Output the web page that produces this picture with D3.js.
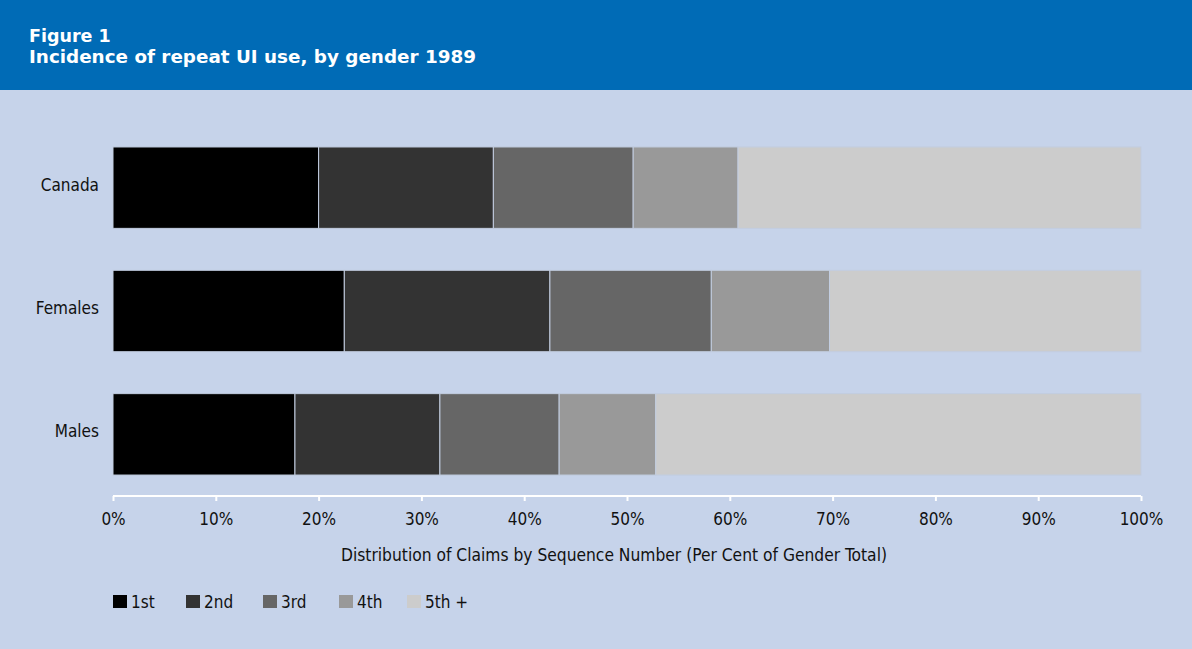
<!DOCTYPE html>
<html>
<head>
<meta charset="utf-8">
<script src="https://cdn.jsdelivr.net/npm/d3@7"></script>
<style>
  html, body { margin: 0; padding: 0; background: #c6d3ea; }
  svg { display: block; }
  .narrow { font-family: "Liberation Sans Narrow", "DejaVu Sans Condensed", "Roboto Condensed", "Liberation Sans", sans-serif; font-stretch: condensed; }
</style>
</head>
<body>
<svg id="chart" width="1192" height="649"></svg>
<script>
// Regions shown as horizontal bars
const categories = ["Canada", "Females", "Males"];
// Claim sequence groups stacked within each bar
const seriesNames = ["1st", "2nd", "3rd", "4th", "5th +"];
// Per cent of gender total for each sequence group (Canada, Females, Males)
const share1st = [20.0, 22.5, 17.7];
const share2nd = [17.0, 20.0, 14.1];
const share3rd = [13.6, 15.7, 11.6];
const share4th = [10.2, 11.5, 9.4];
const share5th = [39.2, 30.3, 47.2];
const seriesColors = ["#000000", "#333333", "#666666", "#999999", "#cccccc"];
const tickValues = [0, 10, 20, 30, 40, 50, 60, 70, 80, 90, 100];

const titleLine1 = "Figure 1";
const titleLine2 = "Incidence of repeat UI use, by gender 1989";
const axisTitle = "Distribution of Claims by Sequence Number (Per Cent of Gender Total)";

const seriesValues = [share1st, share2nd, share3rd, share4th, share5th];
const rows = categories.map((c, i) => {
  const r = { category: c };
  seriesNames.forEach((s, j) => { r[s] = seriesValues[j][i]; });
  return r;
});

const svg = d3.select("#chart");
const W = 1192, H = 649;

// Background panels
svg.append("rect").attr("x", 0).attr("y", 0).attr("width", W).attr("height", H).attr("fill", "#c6d3ea");
svg.append("rect").attr("x", 0).attr("y", 0).attr("width", W).attr("height", 90).attr("fill", "#006bb6");

const titleFont = "DejaVu Sans, Verdana, sans-serif";
svg.append("text").attr("x", 29).attr("y", 42)
  .attr("fill", "#ffffff").attr("font-family", titleFont)
  .attr("font-weight", "bold").attr("font-size", 17.5).text(titleLine1);
svg.append("text").attr("x", 29).attr("y", 63)
  .attr("fill", "#ffffff").attr("font-family", titleFont)
  .attr("font-weight", "bold").attr("font-size", 17.5)
  .attr("textLength", 447).attr("lengthAdjust", "spacingAndGlyphs")
  .text(titleLine2);

const x = d3.scaleLinear().domain([0, 100]).range([113, 1141]);
const y = d3.scaleBand().domain(categories).range([126, 496]).paddingInner(0.34).paddingOuter(0.17);

const stack = d3.stack().keys(seriesNames);
const stacked = stack(rows);

const color = d3.scaleOrdinal().domain(seriesNames).range(seriesColors);

svg.append("g").selectAll("g")
  .data(stacked).join("g")
  .attr("fill", d => color(d.key))
  .selectAll("rect")
  .data(d => d).join("rect")
  .attr("x", d => x(d[0]))
  .attr("y", d => y(d.data.category))
  .attr("width", d => x(d[1]) - x(d[0]))
  .attr("height", y.bandwidth())
  .attr("stroke", "#c2cde0")
  .attr("stroke-width", 1);

// Category labels
svg.append("g").selectAll("text")
  .data(categories).join("text")
  .attr("class", "narrow")
  .attr("x", 99)
  .attr("y", d => y(d) + y.bandwidth() / 2 - 3)
  .attr("dy", "0.35em")
  .attr("text-anchor", "end")
  .attr("font-size", 17)
  .attr("fill", "#111")
  .text(d => d);

// X axis
const xAxis = d3.axisBottom(x).tickValues(tickValues).tickFormat(d => d + "%").tickSize(5).tickPadding(12);
const gx = svg.append("g").attr("transform", "translate(0,496)").call(xAxis);
gx.select(".domain").attr("stroke", "#ffffff").attr("stroke-width", 2).attr("d", "M113,0H1141");
gx.selectAll(".tick line").attr("stroke", "#ffffff").attr("stroke-width", 2);
gx.selectAll(".tick text").attr("class", "narrow").attr("font-size", 17).attr("fill", "#111");

svg.append("text").attr("class", "narrow")
  .attr("x", 614).attr("y", 561).attr("text-anchor", "middle")
  .attr("font-size", 17).attr("fill", "#111")
  .attr("textLength", 546).attr("lengthAdjust", "spacingAndGlyphs")
  .text(axisTitle);

// Legend
const legendX = [113, 186, 263, 339, 407];
const lg = svg.append("g").selectAll("g").data(seriesNames).join("g")
  .attr("transform", (d, i) => `translate(${legendX[i]},595)`);
lg.append("rect").attr("width", 14).attr("height", 13).attr("fill", d => color(d));
lg.append("text").attr("class", "narrow").attr("x", 18).attr("y", 13)
  .attr("font-size", 17).attr("fill", "#111").text(d => d);
</script>
</body>
</html>
